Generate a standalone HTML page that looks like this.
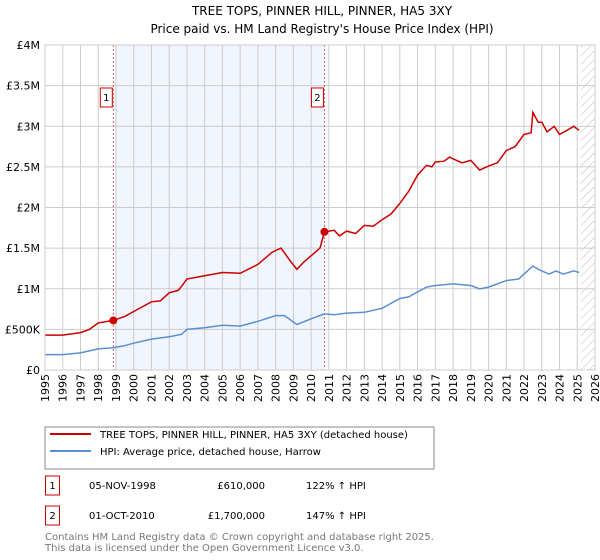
<!DOCTYPE html>
<html><head><meta charset="utf-8"><style>
body{margin:0;background:#fff;font-family:"Liberation Sans","DejaVu Sans",sans-serif;}
svg{display:block}
</style></head><body>
<svg id="c" width="600" height="560" xmlns="http://www.w3.org/2000/svg" font-family="'DejaVu Sans','Liberation Sans',sans-serif">
<defs><pattern id="hatch" width="6" height="6" patternUnits="userSpaceOnUse" patternTransform="rotate(45)"><line x1="0" y1="0" x2="0" y2="6" stroke="#bbb" stroke-width="1"/></pattern></defs>
<text x="322" y="15" text-anchor="middle" font-size="12" fill="#000">TREE TOPS, PINNER HILL, PINNER, HA5 3XY</text>
<text x="322" y="33" text-anchor="middle" font-size="12" fill="#000">Price paid vs. HM Land Registry's House Price Index (HPI)</text>
<g id="plot"></g>
<rect x="45" y="427" width="389" height="42" fill="#fff" stroke="#888"/>
<line x1="50" y1="434" x2="91" y2="434" stroke="#cc0000" stroke-width="2"/>
<text x="100" y="438" font-size="10">TREE TOPS, PINNER HILL, PINNER, HA5 3XY (detached house)</text>
<line x1="50" y1="451" x2="91" y2="451" stroke="#5b8fd4" stroke-width="2"/>
<text x="100" y="455" font-size="10">HPI: Average price, detached house, Harrow</text>
<g font-size="10">
<rect x="45.5" y="476" width="14" height="19" fill="#fff" stroke="#cc0000"/>
<text x="52.5" y="489" text-anchor="middle">1</text>
<text x="89" y="489">05-NOV-1998</text>
<text x="265" y="489" text-anchor="end">£610,000</text>
<text x="306" y="489">122% ↑ HPI</text>
<rect x="45.5" y="506" width="14" height="19" fill="#fff" stroke="#cc0000"/>
<text x="52.5" y="519" text-anchor="middle">2</text>
<text x="89" y="519">01-OCT-2010</text>
<text x="265" y="519" text-anchor="end">£1,700,000</text>
<text x="306" y="519">147% ↑ HPI</text>
</g>
<text x="45" y="540" font-size="10" fill="#777">Contains HM Land Registry data © Crown copyright and database right 2025.</text>
<text x="45" y="551" font-size="10" fill="#777">This data is licensed under the Open Government Licence v3.0.</text>
</svg>
<script>
const yTicks=[0,0.5,1,1.5,2,2.5,3,3.5,4];
const yTickLabels=["£0","£500K","£1M","£1.5M","£2M","£2.5M","£3M","£3.5M","£4M"];
const years=[1995,1996,1997,1998,1999,2000,2001,2002,2003,2004,2005,2006,2007,2008,2009,2010,2011,2012,2013,2014,2015,2016,2017,2018,2019,2020,2021,2022,2023,2024,2025,2026];
const redT=[1995,1996,1997,1997.5,1998,1998.85,1999.5,2000,2001,2001.5,2002,2002.5,2002.7,2003,2004,2005,2006,2007,2007.8,2008.3,2008.8,2009.2,2009.6,2010.5,2010.75,2011.3,2011.6,2012,2012.5,2013,2013.5,2014,2014.5,2015,2015.5,2016,2016.5,2016.8,2017,2017.5,2017.8,2018,2018.5,2019,2019.5,2020,2020.5,2021,2021.5,2022,2022.4,2022.5,2022.8,2023,2023.3,2023.7,2024,2024.5,2024.8,2025.1];
const redV=[0.43,0.43,0.46,0.5,0.58,0.61,0.66,0.72,0.84,0.85,0.95,0.98,1.03,1.12,1.16,1.2,1.19,1.3,1.45,1.5,1.35,1.24,1.33,1.5,1.7,1.72,1.65,1.71,1.68,1.78,1.77,1.85,1.92,2.05,2.2,2.4,2.52,2.5,2.56,2.57,2.62,2.6,2.55,2.58,2.46,2.51,2.55,2.7,2.75,2.9,2.92,3.17,3.05,3.05,2.93,3.0,2.9,2.96,3.0,2.95];
const blueT=[1995,1996,1997,1998,1998.85,1999.5,2000,2001,2002,2002.7,2003,2004,2005,2006,2007,2008,2008.5,2009.2,2010,2010.75,2011.3,2012,2013,2014,2015,2015.5,2016.5,2017,2018,2019,2019.5,2020,2021,2021.7,2022,2022.5,2022.8,2023.4,2023.8,2024.2,2024.8,2025.1];
const blueV=[0.19,0.19,0.21,0.26,0.275,0.3,0.33,0.38,0.41,0.44,0.5,0.52,0.55,0.54,0.6,0.67,0.67,0.56,0.63,0.69,0.68,0.7,0.71,0.76,0.88,0.9,1.02,1.04,1.06,1.04,1.0,1.02,1.1,1.12,1.18,1.28,1.24,1.18,1.22,1.18,1.22,1.2];
const saleT=[1998.85,2010.75];
const saleV=[0.61,1.7];
const saleLabels=["1","2"];
const X0=45,X1=595,Y0=370,Y1=45;
const xs=t=>X0+(t-1995)/(2026-1995)*(X1-X0);
const ys=v=>Y0-v/4*(Y0-Y1);
const NS="http://www.w3.org/2000/svg";
const g=document.getElementById('plot');
function mk(tag,attrs,parent){const e=document.createElementNS(NS,tag);for(const k in attrs)e.setAttribute(k,attrs[k]);(parent||g).appendChild(e);return e;}
let e;
e=mk('rect',{x:xs(saleT[0]),y:Y1,width:xs(saleT[1])-xs(saleT[0]),height:Y0-Y1,fill:'#eef3fc',opacity:0.8});


e=mk('rect',{x:xs(2025.2),y:Y1,width:X1-xs(2025.2),height:Y0-Y1,fill:'url(#hatch)'});


years.forEach(y=>{
 e=mk('line',{x1:xs(y),x2:xs(y),y1:Y1,y2:Y0,stroke:'#ccc','stroke-width':1});
 
 
 e=mk('text',{x:0,y:0,'font-size':11,'text-anchor':'end',transform:`translate(${xs(y)+4},${Y0+4}) rotate(-90)`});
 e.textContent=y;
 
 
});
yTicks.forEach((v,i)=>{
 e=mk('line',{x1:X0,x2:X1,y1:ys(v),y2:ys(v),stroke:'#ccc','stroke-width':1});
 
 
 e=mk('text',{x:X0-5,y:ys(v)+4,'font-size':11,'text-anchor':'end'});
 e.textContent=yTickLabels[i];
 
 
});
saleT.forEach((t,i)=>{
 e=mk('line',{x1:xs(t),x2:xs(t),y1:Y1,y2:Y0,stroke:'#e06060','stroke-width':1,'stroke-dasharray':'2,2'});
 
 
});
function path(T,V){return T.map((t,i)=>(i?'L':'M')+xs(t).toFixed(1)+','+ys(V[i]).toFixed(1)).join('');}
e=mk('path',{d:path(blueT,blueV),fill:'none',stroke:'#5b8fd4','stroke-width':1.5});


e=mk('path',{d:path(redT,redV),fill:'none',stroke:'#cc0000','stroke-width':1.5});


saleT.forEach((t,i)=>{
 e=mk('circle',{cx:xs(t),cy:ys(saleV[i]),r:4,fill:'#cc0000'});
 
 
 e=mk('rect',{x:xs(t)-13,y:88,width:12,height:19,fill:'#fff',stroke:'#cc0000'});
 
 
 e=mk('text',{x:xs(t)-7,y:101,'font-size':10,'text-anchor':'middle'});
 e.textContent=saleLabels[i];
 
 
});
e=mk('rect',{x:X0,y:Y1,width:X1-X0,height:Y0-Y1,fill:'none',stroke:'#ccc'});


</script>
</body></html>
